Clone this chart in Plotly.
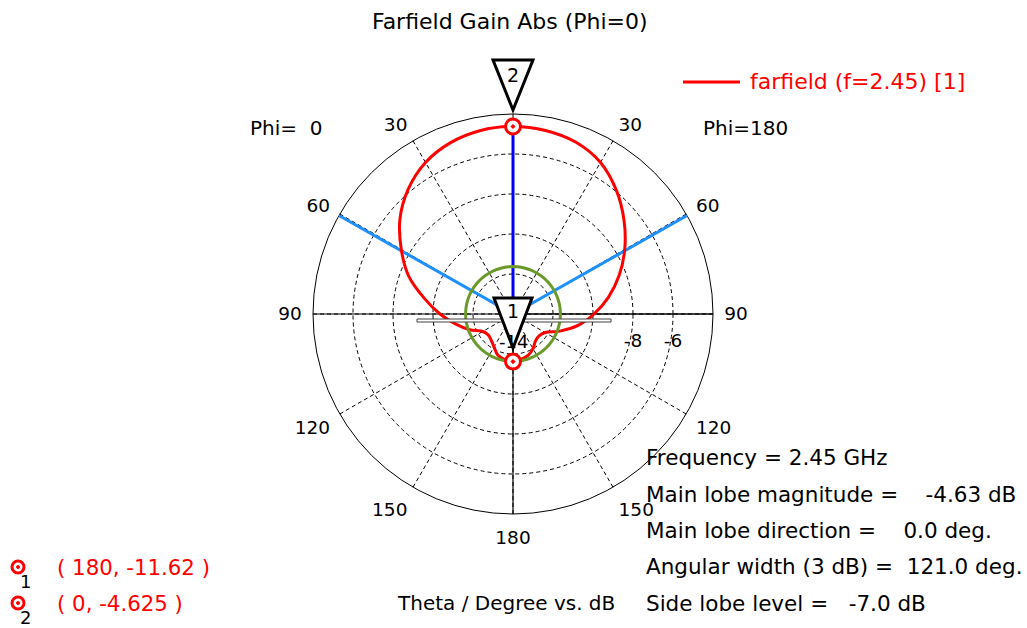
import math
import plotly.graph_objects as go

# ---------------- data ----------------
theta_deg = [0, 10, 20, 30, 40, 50, 60, 70, 80, 90, 100, 110, 120, 130, 140, 150, 160, 170, 180]
gain_phi0 = [-4.625, -4.68, -4.88, -5.25, -5.85, -6.62, -7.55, -8.45, -9.5, -10.35,
             -11.1, -11.7, -12.25, -12.38, -12.3, -12.1, -11.8, -11.68, -11.62]
gain_phi180 = [-4.625, -4.68, -4.85, -5.25, -5.95, -6.75, -7.55, -8.35, -9.15, -9.95,
               -10.7, -11.5, -12.15, -12.3, -12.25, -12.0, -11.8, -11.7, -11.62]

marker_ids = ["1", "2"]
marker_theta = [180, 0]
marker_gain = [-11.62, -4.625]

frequency_ghz = 2.45
main_lobe_mag = -4.63
main_lobe_dir = 0.0
angular_width = 121.0
side_lobe_level = -7.0

angle_tickvals = [0, 30, 60, 90, 120, 150, 180, 210, 240, 270, 300, 330]
angle_ticktext = ["", "30", "60", "90", "120", "150", "180", "150", "120", "90", "60", "30"]
radial_tickvals = [-14, -12, -10, -8, -6, -4]
radial_ticktext = ["-14", "", "", "-8", "-6", ""]

# ---------------- geometry / style ----------------
W, H = 1027, 628
CX, CY, RAD = 513, 314, 200
R_MIN, R_MAX = -14, -4
FONT = "DejaVu Sans"


def px(x, y):
    return x / W, 1 - y / H


def polar_px(theta, r):
    rr = (r - R_MIN) / (R_MAX - R_MIN) * RAD
    t = math.radians(theta)
    return CX + rr * math.sin(t), CY - rr * math.cos(t)


def note(x, y, text, size, color="black", anchor="center"):
    xx, yy = px(x, y)
    return dict(x=xx, y=yy, xref="paper", yref="paper", xanchor=anchor, yanchor="middle",
                text=text, showarrow=False, font=dict(family=FONT, size=size, color=color))


fig = go.Figure()

# solid axes lines
fig.add_trace(go.Scatterpolar(theta=[270, 270, 90, 90], r=[R_MAX, R_MIN, R_MIN, R_MAX], mode="lines",
                              line=dict(color="black", width=1.2), hoverinfo="skip", showlegend=False))
fig.add_trace(go.Scatterpolar(theta=[180, 180], r=[R_MIN, R_MAX], mode="lines",
                              line=dict(color="black", width=1.2), hoverinfo="skip", showlegend=False))

# 3 dB beam width lines
hw = angular_width / 2
fig.add_trace(go.Scatterpolar(theta=[360 - hw, 0, hw], r=[R_MAX, R_MIN, R_MAX], mode="lines",
                              line=dict(color="#1E90FF", width=3), hoverinfo="skip", showlegend=False))
# main lobe direction
fig.add_trace(go.Scatterpolar(theta=[main_lobe_dir, main_lobe_dir], r=[R_MIN, main_lobe_mag], mode="lines",
                              line=dict(color="#0000FF", width=3), hoverinfo="skip", showlegend=False))

# farfield curve: phi=180 on right, phi=0 on left
curve_theta = list(theta_deg) + [360 - t for t in reversed(theta_deg)]
curve_r = list(gain_phi180) + list(reversed(gain_phi0))
fig.add_trace(go.Scatterpolar(theta=curve_theta, r=curve_r, mode="lines",
                              line=dict(color="#FF0000", width=3, shape="spline"),
                              name="farfield (f=2.45) [1]", showlegend=False))

# side lobe level circle
sll = main_lobe_mag + side_lobe_level
circ_theta = list(range(0, 361, 5))
fig.add_trace(go.Scatterpolar(theta=circ_theta, r=[sll] * len(circ_theta), mode="lines",
                              line=dict(color="#6B9A2A", width=3), hoverinfo="skip", showlegend=False))

# curve markers
fig.add_trace(go.Scatterpolar(theta=marker_theta, r=marker_gain, mode="markers",
                              marker=dict(symbol="circle-dot", size=15, color="white",
                                          line=dict(color="#FF0000", width=3)),
                              showlegend=False, cliponaxis=False))

shapes = []
annotations = []

# antenna outline
x0, y0 = px(417, 319)
x1, y1 = px(611, 322)
shapes.append(dict(type="rect", xref="paper", yref="paper", x0=x0, y0=y0, x1=x1, y1=y1,
                   line=dict(color="#404040", width=1), fillcolor="white", layer="above"))


# triangles (markers of plot center and main lobe)
def tri(tip_x, tip_y, height=50, half=20):
    pts = [(tip_x - half, tip_y - height), (tip_x + half, tip_y - height), (tip_x, tip_y)]
    p = [px(*q) for q in pts]
    return "M {} {} L {} {} L {} {} Z".format(p[0][0], p[0][1], p[1][0], p[1][1], p[2][0], p[2][1])


cx0, cy0 = polar_px(0, R_MIN)
shapes.append(dict(type="path", xref="paper", yref="paper", path=tri(cx0, cy0 + 34, half=19),
                   line=dict(color="black", width=3), fillcolor="white", layer="above"))
tx, ty = polar_px(main_lobe_dir, R_MAX)
shapes.append(dict(type="path", xref="paper", yref="paper", path=tri(tx, ty - 4),
                   line=dict(color="black", width=3), fillcolor="white", layer="above"))

annotations.append(note(cx0, cy0 - 3, "1", 19))
annotations.append(note(tx, ty - 39, "2", 19))
# -14 label over the triangle (radial tick at centre)
annotations.append(note(cx0, cy0 + 27, radial_ticktext[0], 18))

# title
annotations.append(note(510, 22, "Farfield Gain Abs (Phi=0)", 22))

# legend
lx0, ly = px(683, 82)
lx1, _ = px(740, 82)
shapes.append(dict(type="line", xref="paper", yref="paper", x0=lx0, x1=lx1, y0=ly, y1=ly,
                   line=dict(color="#FF0000", width=3)))
annotations.append(note(748, 82, "farfield (f=2.45) [1]", 22, "#FF0000", "left"))

# phi labels
annotations.append(note(248, 128, "Phi=\u00a0\u00a00", 20, anchor="left"))
annotations.append(note(701, 128, "Phi=180", 20, anchor="left"))

# info block
NB = "\u00a0"
info_lines = [
    "Frequency = {:.2f} GHz".format(frequency_ghz),
    "Main lobe magnitude =" + NB * 4 + "{:.2f} dB".format(main_lobe_mag),
    "Main lobe direction =" + NB * 4 + "{:.1f} deg.".format(main_lobe_dir),
    "Angular width (3 dB) =" + NB * 2 + "{:.1f} deg.".format(angular_width),
    "Side lobe level =" + NB * 3 + "{:.1f} dB".format(side_lobe_level),
]
info_y = [458, 494, 530, 566, 603]
for t, yy in zip(info_lines, info_y):
    annotations.append(note(644, yy, t, 21.5, anchor="left"))

annotations.append(note(395, 603, "Theta / Degree vs. dB", 20, anchor="left"))

# marker list bottom-left
for mid, th, g, yy in zip(marker_ids, marker_theta, marker_gain, [567, 603]):
    a0 = px(12, yy - 6)
    a1 = px(24, yy + 6)
    shapes.append(dict(type="circle", xref="paper", yref="paper", x0=a0[0], y0=a0[1], x1=a1[0], y1=a1[1],
                       line=dict(color="#FF0000", width=3), fillcolor="white"))
    d0 = px(16.5, yy - 1.5)
    d1 = px(19.5, yy + 1.5)
    shapes.append(dict(type="circle", xref="paper", yref="paper", x0=d0[0], y0=d0[1], x1=d1[0], y1=d1[1],
                       line=dict(color="#FF0000", width=1), fillcolor="#FF0000"))
    annotations.append(note(25, yy + 14, mid, 18))
    gtxt = "{:g}".format(g)
    annotations.append(note(55, yy, "(\u00a0{},\u00a0{}\u00a0)".format(th, gtxt), 21.3, "#FF0000", "left"))

fig.update_layout(
    width=W, height=H,
    margin=dict(l=0, r=0, t=0, b=0),
    paper_bgcolor="white",
    plot_bgcolor="white",
    showlegend=False,
    polar=dict(
        domain=dict(x=[(CX - RAD) / W, (CX + RAD) / W], y=[1 - (CY + RAD) / H, 1 - (CY - RAD) / H]),
        bgcolor="white",
        angularaxis=dict(rotation=90, direction="clockwise", layer="below traces",
                         tickmode="array", tickvals=angle_tickvals, ticktext=angle_ticktext,
                         showline=True, linecolor="black", linewidth=1,
                         showgrid=True, gridcolor="black", gridwidth=1, griddash="4px,3px",
                         ticks="outside", ticklen=7, tickcolor="rgba(0,0,0,0)",
                         tickfont=dict(family=FONT, size=18.5, color="black")),
        radialaxis=dict(range=[R_MIN, R_MAX], angle=0, side="clockwise", layer="below traces",
                        tickmode="array", tickvals=radial_tickvals,
                        ticktext=["" if v == radial_ticktext[0] else v for v in radial_ticktext],
                        showline=True, linecolor="black", linewidth=1,
                        showgrid=True, gridcolor="black", gridwidth=1, griddash="4px,3px",
                        ticks="outside", ticklen=10, tickcolor="rgba(0,0,0,0)",
                        tickfont=dict(family=FONT, size=18.5, color="black")),
    ),
    shapes=shapes,
    annotations=annotations,
)

fig.write_html("out.html")
